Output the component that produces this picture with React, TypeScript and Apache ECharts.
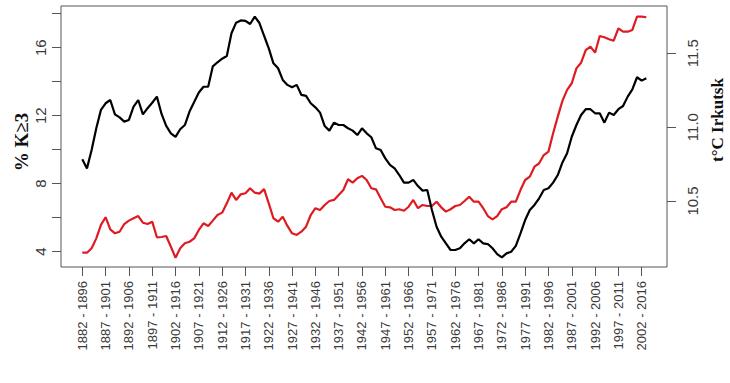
import React, { useEffect, useRef } from "react";
import * as echarts from "echarts";

// First year of each 15-year window (x position of each point)
const firstYear = 1882;

// % K>=3 (black line, left axis), windows 1882-1896 ... 2003-2017
const kIndex = [
  9.44, 8.9, 9.98, 11.26, 12.34, 12.73, 12.92, 12.08, 11.9, 11.65,
  11.75, 12.53, 12.92, 12.08, 12.44, 12.76, 13.12, 12.1, 11.4, 10.96,
  10.75, 11.2, 11.45, 12.24, 12.8, 13.36, 13.7, 13.7, 14.9, 15.14,
  15.35, 15.51, 16.85, 17.47, 17.6, 17.58, 17.39, 17.82, 17.45, 16.7,
  15.96, 15.08, 14.79, 14.1, 13.81, 13.67, 13.81, 13.22, 13.16, 12.73,
  12.49, 12.18, 11.39, 11.12, 11.59, 11.45, 11.45, 11.26, 11.12, 10.86,
  11.26, 10.96, 10.73, 10.08, 9.98, 9.49, 9.1, 8.9, 8.51, 8.06,
  8.06, 8.22, 7.86, 7.59, 7.63, 6.45, 5.47, 4.88, 4.49, 4.1,
  4.1, 4.2, 4.49, 4.73, 4.49, 4.73, 4.49, 4.45, 4.2, 3.86,
  3.67, 3.9, 4.0, 4.34, 5.08, 5.86, 6.45, 6.75, 7.14, 7.63,
  7.73, 8.06, 8.51, 9.25, 9.79, 10.76, 11.45, 12.04, 12.38, 12.38,
  12.14, 12.14, 11.59, 12.18, 12.04, 12.38, 12.57, 13.12, 13.55, 14.26,
  14.06, 14.2,
];

// t°C Irkutsk (red line, right axis)
const tempIrkutsk = [
  10.15, 10.15, 10.18, 10.247, 10.338, 10.39, 10.308, 10.281, 10.292, 10.344,
  10.367, 10.383, 10.398, 10.353, 10.344, 10.36, 10.254, 10.256, 10.263, 10.19,
  10.116, 10.18, 10.214, 10.224, 10.247, 10.304, 10.349, 10.331, 10.367, 10.405,
  10.421, 10.484, 10.556, 10.507, 10.545, 10.552, 10.586, 10.556, 10.55, 10.58,
  10.484, 10.383, 10.36, 10.394, 10.331, 10.281, 10.27, 10.292, 10.326, 10.405,
  10.451, 10.439, 10.473, 10.5, 10.507, 10.541, 10.574, 10.647, 10.624, 10.654,
  10.67, 10.642, 10.586, 10.579, 10.518, 10.461, 10.457, 10.439, 10.444, 10.434,
  10.461, 10.507, 10.451, 10.473, 10.466, 10.466, 10.495, 10.457, 10.428, 10.444,
  10.466, 10.473, 10.5, 10.529, 10.495, 10.495, 10.451, 10.398, 10.376, 10.398,
  10.444, 10.457, 10.495, 10.495, 10.574, 10.642, 10.665, 10.732, 10.755, 10.811,
  10.834, 10.958, 11.071, 11.178, 11.252, 11.297, 11.398, 11.436, 11.522, 11.545,
  11.504, 11.617, 11.608, 11.595, 11.585, 11.669, 11.646, 11.646, 11.658, 11.748,
  11.748, 11.744,
];

// x-axis tick labels
const labelYears = [
  1882, 1887, 1892, 1897, 1902, 1907, 1912, 1917, 1922, 1927, 1932, 1937, 1942,
  1947, 1952, 1957, 1962, 1967, 1972, 1977, 1982, 1987, 1992, 1997, 2002,
];
const periodLabels = [
  "1882 - 1896", "1887 - 1901", "1892 - 1906", "1897 - 1911", "1902 - 1916",
  "1907 - 1921", "1912 - 1926", "1917 - 1931", "1922 - 1936", "1927 - 1941",
  "1932 - 1946", "1937 - 1951", "1942 - 1956", "1947 - 1961", "1952 - 1966",
  "1957 - 1971", "1962 - 1976", "1967 - 1981", "1972 - 1986", "1977 - 1991",
  "1982 - 1996", "1987 - 2001", "1992 - 2006", "1997 - 2011", "2002 - 2016",
];

// y-axis ticks
const leftTicks = [4, 6, 8, 10, 12, 14, 16, 18];
const leftLabels = [4, 8, 12, 16];
const rightTicks = [10.5, 11.0, 11.5];

const leftName = "% K≥3";
const rightName = "t°C Irkutsk";

const SANS = "'Liberation Sans', Arial, sans-serif";
const SERIF = "'Liberation Serif', 'Times New Roman', serif";

export default function App() {
  const ref = useRef<HTMLDivElement>(null);

  useEffect(() => {
    document.body.style.margin = "0";
    const chart = echarts.init(ref.current!, null, { renderer: "svg" });

    const kData = kIndex.map((v, i) => [firstYear + i, v]);
    const tData = tempIrkutsk.map((v, i) => [firstYear + i, v]);

    chart.setOption({
      animation: false,
      backgroundColor: "#ffffff",
      grid: {
        left: 61,
        right: 63,
        top: 6,
        bottom: 116,
        show: true,
        borderColor: "#555",
        borderWidth: 1,
        backgroundColor: "transparent",
      },
      xAxis: {
        type: "value",
        min: 1877.43,
        max: 2007.43,
        splitLine: { show: false },
        axisLine: { show: false },
        axisTick: {
          show: true,
          length: 9,
          customValues: labelYears,
          lineStyle: { color: "#555", width: 1 },
        },
        axisLabel: {
          customValues: labelYears,
          rotate: 90,
          margin: 14,
          fontFamily: SANS,
          fontSize: 13,
          color: "#3a3a3a",
          formatter: (v: number) => {
            const i = labelYears.indexOf(Math.round(v));
            return i >= 0 ? periodLabels[i] : "";
          },
        },
      },
      yAxis: [
        {
          type: "value",
          position: "left",
          min: 3.1,
          max: 18.45,
          splitLine: { show: false },
          axisLine: { show: false },
          axisTick: {
            show: true,
            length: 9,
            customValues: leftTicks,
            lineStyle: { color: "#555", width: 1 },
          },
          axisLabel: {
            customValues: leftLabels,
            rotate: 90,
            margin: 13,
            fontFamily: SANS,
            fontSize: 15,
            color: "#3a3a3a",
          },
        },
        {
          type: "value",
          position: "right",
          min: 10.053,
          max: 11.82,
          splitLine: { show: false },
          axisLine: { show: false },
          axisTick: {
            show: true,
            length: 9,
            customValues: rightTicks,
            lineStyle: { color: "#555", width: 1 },
          },
          axisLabel: {
            customValues: rightTicks,
            rotate: 90,
            margin: 18,
            fontFamily: SANS,
            fontSize: 15,
            color: "#3a3a3a",
            formatter: (v: number) => v.toFixed(1),
          },
        },
      ],
      graphic: [
        {
          type: "text",
          x: 21,
          y: 142,
          rotation: Math.PI / 2,
          style: {
            text: leftName,
            font: `bold 19px ${SERIF}`,
            fill: "#111",
            textAlign: "center",
            textVerticalAlign: "middle",
          },
        },
        {
          type: "text",
          x: 717,
          y: 120,
          rotation: Math.PI / 2,
          style: {
            text: rightName,
            font: `bold 17px ${SERIF}`,
            fill: "#111",
            textAlign: "center",
            textVerticalAlign: "middle",
          },
        },
      ],
      series: [
        {
          name: leftName,
          type: "line",
          yAxisIndex: 0,
          data: kData,
          showSymbol: false,
          lineStyle: { color: "#000000", width: 2.2 },
          itemStyle: { color: "#000000" },
          z: 3,
        },
        {
          name: rightName,
          type: "line",
          yAxisIndex: 1,
          data: tData,
          showSymbol: false,
          lineStyle: { color: "#df1b22", width: 2.2 },
          itemStyle: { color: "#df1b22" },
          z: 2,
        },
      ],
    });

    return () => chart.dispose();
  }, []);

  return <div ref={ref} style={{ width: 730, height: 383 }} />;
}
